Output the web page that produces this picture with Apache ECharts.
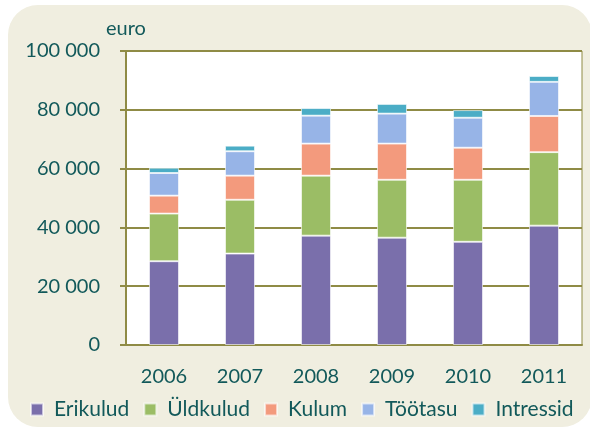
<!DOCTYPE html>
<html>
  <head>
    <meta charset="utf-8" />
    <title>Kulud</title>
    <script src="https://cdn.jsdelivr.net/npm/echarts@6.0.0/dist/echarts.min.js"></script>
    <style>
      body { margin: 0; background: #fff; }
      #bg { position: absolute; left: 8px; top: 5px; width: 584px; height: 422px;
            background: #f0eee0; border-radius: 30px; }
      #chart { position: absolute; left: 0; top: 0; width: 590px; height: 430px; }
    </style>
  </head>
  <body>
    <div id="bg"></div>
    <div id="chart"></div>
    <script type="text/javascript">
      // andmed (loetud jooniselt, eurodes)
      var aastad = ['2006', '2007', '2008', '2009', '2010', '2011'];
      var erikulud = [28500, 31100, 37200, 36500, 35100, 40600];
      var yldkulud = [16200, 18300, 20400, 19700, 21100, 25000];
      var kulum = [6100, 8200, 10900, 12300, 10900, 12300];
      var tootasu = [7700, 8300, 9500, 10200, 10200, 11600];
      var intressid = [1800, 1900, 2600, 3300, 2600, 2000];

      var oliiv = '#8f8b45';
      var tekst = '#12595a';
      var font = 'Lato';

      var chart = echarts.init(document.getElementById('chart'));

      function seeria(nimi, andmed, varv) {
        return {
          name: nimi,
          type: 'bar',
          stack: 'kokku',
          barWidth: 30,
          data: andmed,
          itemStyle: {
            color: varv,
            borderColor: 'rgba(255,255,255,0.6)',
            borderWidth: 1
          }
        };
      }

      var option = {
        backgroundColor: 'transparent',
        animation: false,
        textStyle: { fontFamily: font, color: tekst },
        title: {
          text: 'euro',
          left: 101,
          top: 14,
          textStyle: { fontFamily: font, fontSize: 20, fontWeight: 'normal', color: tekst }
        },
        legend: {
          left: 25,
          top: 394,
          itemWidth: 12,
          itemHeight: 12,
          itemGap: 14,
          icon: 'rect',
          textStyle: { fontFamily: font, fontSize: 21, color: tekst, padding: [0, 0, 0, 6] },
          data: ['Erikulud', 'Üldkulud', 'Kulum', 'Töötasu', 'Intressid']
        },
        grid: {
          left: 126,
          right: 8,
          top: 51,
          bottom: 85,
          show: true,
          backgroundColor: '#ffffff',
          borderColor: oliiv,
          borderWidth: 1
        },
        xAxis: {
          type: 'category',
          data: aastad,
          axisLine: { lineStyle: { color: oliiv, width: 2 } },
          axisTick: { length: 7, lineStyle: { color: oliiv, width: 2 } },
          axisLabel: { margin: 22, fontFamily: font, fontSize: 20, color: tekst }
        },
        yAxis: {
          type: 'value',
          min: 0,
          max: 100000,
          interval: 20000,
          axisLine: { show: true, lineStyle: { color: oliiv, width: 2 } },
          axisTick: { show: true, length: 6, lineStyle: { color: oliiv, width: 2 } },
          splitLine: { lineStyle: { color: oliiv, width: 2 } },
          axisLabel: {
            margin: 26,
            fontFamily: font,
            fontSize: 20,
            color: tekst,
            formatter: function (v) {
              return String(v).replace(/\B(?=(\d{3})+(?!\d))/g, ' ');
            }
          }
        },
        series: [
          seeria('Erikulud', erikulud, '#7a6fab'),
          seeria('Üldkulud', yldkulud, '#9bbd65'),
          seeria('Kulum', kulum, '#f39a7d'),
          seeria('Töötasu', tootasu, '#97b4e7'),
          seeria('Intressid', intressid, '#4badc6')
        ]
      };
      chart.setOption(option);
    </script>
  </body>
</html>
